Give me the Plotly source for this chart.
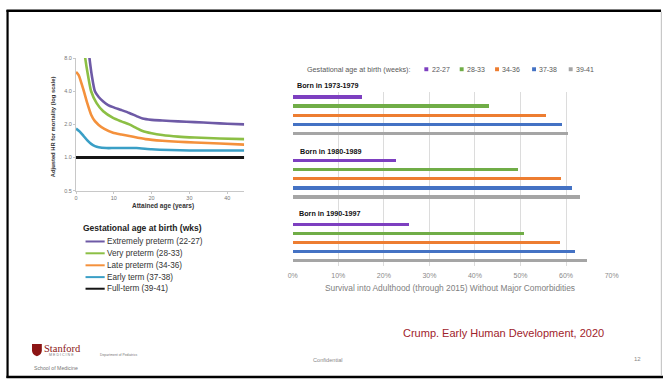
import math
import plotly.graph_objects as go

W, H = 670, 381
def px(x):
    return x / W
def py(y):
    return 1 - y / H

# ---------------- Left chart data (adjusted HR, log scale) ----------------
series_left = ["Extremely preterm (22-27)", "Very preterm (28-33)", "Late preterm (34-36)",
               "Early term (37-38)", "Full-term (39-41)"]
colors_left = ["#6e5aa6", "#8cbf45", "#f4913c", "#3a9fc6", "#151515"]

age_ext = [3.0, 3.56, 4.2, 5.0, 6.0, 7.2, 8.5, 9.8, 12, 14.1, 16, 17.6, 20, 22.8, 27, 31.4, 36, 40, 44.5]
hr_ext = [12, 8.0, 5.5, 4.0, 3.55, 3.23, 3.0, 2.87, 2.7, 2.54, 2.38, 2.26, 2.2, 2.17, 2.13, 2.1, 2.06, 2.03, 2.0]

age_very = [2.0, 2.44, 3.2, 4.0, 5.45, 7.2, 9.8, 12, 14.1, 16, 17.6, 20, 22.8, 27, 31.4, 38, 44.5]
hr_very = [11, 8.0, 5.5, 4.0, 3.12, 2.63, 2.29, 2.13, 2.0, 1.85, 1.74, 1.66, 1.6, 1.55, 1.52, 1.49, 1.47]

age_late = [0, 0.7, 1.3, 2, 3, 4, 5, 6, 7.5, 9.8, 12, 14.1, 18.4, 22.8, 27, 31.4, 38, 44.5]
hr_late = [6.0, 5.6, 4.9, 4.1, 3.1, 2.45, 2.14, 1.98, 1.82, 1.68, 1.62, 1.57, 1.47, 1.42, 1.39, 1.37, 1.34, 1.31]

age_early = [0, 1, 2, 3, 4, 5, 6, 8, 10, 13, 16, 20, 25, 30, 38, 44.5]
hr_early = [1.83, 1.72, 1.57, 1.43, 1.33, 1.27, 1.24, 1.22, 1.22, 1.22, 1.22, 1.19, 1.17, 1.16, 1.16, 1.16]

age_full = [0, 44.5]
hr_full = [1.0, 1.0]

left_ages = [age_ext, age_very, age_late, age_early, age_full]
left_hrs = [hr_ext, hr_very, hr_late, hr_early, hr_full]
left_widths = [2.6, 2.6, 2.6, 2.6, 3]

y_ticks_left = [0.5, 1.0, 2.0, 4.0, 8.0]
y_ticktext_left = ["0.5", "1.0", "2.0", "4.0", "8.0"]
x_ticks_left = [0, 10, 20, 30, 40]

# ---------------- Right chart data (survival without comorbidities) ----------------
cohorts = ["Born in 1973-1979", "Born in 1980-1989", "Born in 1990-1997"]
ga_groups = ["22-27", "28-33", "34-36", "37-38", "39-41"]
colors_right = ["#7d3fc0", "#70ad47", "#ed7d31", "#4472c4", "#a5a5a5"]
survival = {
    "22-27": [0.152, 0.227, 0.254],
    "28-33": [0.430, 0.494, 0.506],
    "34-36": [0.555, 0.588, 0.586],
    "37-38": [0.591, 0.613, 0.619],
    "39-41": [0.604, 0.629, 0.645],
}
x_ticks_right = [0, 0.1, 0.2, 0.3, 0.4, 0.5, 0.6, 0.7]

fig = go.Figure()

for name, ages, hrs, col, lw in zip(series_left, left_ages, left_hrs, colors_left, left_widths):
    fig.add_trace(go.Scatter(x=ages, y=hrs, mode="lines", name=name,
                             line=dict(color=col, width=lw, shape="spline", smoothing=0.6),
                             xaxis="x", yaxis="y", showlegend=False))

# slot layout: each cohort takes 7 slots (header + 5 bars + gap)
for i, (g, col) in enumerate(zip(ga_groups, colors_right)):
    ys = [c * 7 + 1 + i for c in range(len(cohorts))]
    fig.add_trace(go.Bar(x=survival[g], y=ys, orientation="h", width=0.35,
                         marker=dict(color=col, line=dict(width=0)), name=g,
                         xaxis="x2", yaxis="y2", showlegend=False))

FONT = "Liberation Sans, Arial, sans-serif"

fig.update_layout(
    width=W, height=H, margin=dict(l=0, r=0, t=0, b=0),
    paper_bgcolor="white", plot_bgcolor="rgba(0,0,0,0)",
    font=dict(family=FONT, color="#444"),
    showlegend=False,
    xaxis=dict(domain=[px(72.3), px(243.6)], range=[0, 44.5], tickvals=x_ticks_left,
               showgrid=False, zeroline=False, showline=True, linecolor="#c8c8c8", linewidth=1,
               ticks="outside", ticklen=2, tickcolor="#c8c8c8",
               tickfont=dict(size=5.5, color="#777"), anchor="y"),
    yaxis=dict(domain=[py(190.7), py(56)], type="log",
               range=[math.log10(0.5), math.log10(8)],
               tickvals=y_ticks_left, ticktext=y_ticktext_left,
               showgrid=False, zeroline=False, showline=True, linecolor="#c8c8c8", linewidth=1,
               ticks="outside", ticklen=2, tickcolor="#c8c8c8",
               tickfont=dict(size=5.5, color="#777"), anchor="x"),
    xaxis2=dict(domain=[px(293), px(617.7)], range=[0, 0.7], tickvals=x_ticks_right,
                tickformat=".0%", showgrid=True, gridcolor="#dcdcdc", gridwidth=1,
                zeroline=False, showline=False, ticks="", ticklabelstandoff=4,
                tickfont=dict(size=7, color="#8a8a8a"), anchor="y2"),
    yaxis2=dict(domain=[py(267), py(90)], range=[19.6, 0.46], showticklabels=False,
                showgrid=False, zeroline=False, showline=False, ticks="", anchor="x2"),
    bargap=0,
)

ann = []
shapes = []

def text(t, x, y, size, color, xanchor="left", angle=0, family=None):
    f = dict(size=size, color=color)
    if family:
        f["family"] = family
    ann.append(dict(text=t, x=px(x), y=py(y), xref="paper", yref="paper", showarrow=False,
                    xanchor=xanchor, yanchor="middle", textangle=angle, font=f))

# left axis titles
text("<b>Adjusted HR for mortality (log scale)</b>", 49, 126, 5.8, "#333", "center", -90)
text("<b>Attained age (years)</b>", 161, 206.7, 6.5, "#333", "center")

# left legend
text("<b>Gestational age at birth (wks)</b>", 77, 229, 8.5, "#222")
leg_y = [242.3, 254.3, 266.5, 278.5, 290.3]
for name, col, yy in zip(series_left, colors_left, leg_y):
    shapes.append(dict(type="line", xref="paper", yref="paper", x0=px(82), x1=px(101.5),
                       y0=py(yy), y1=py(yy), line=dict(color=col, width=2)))
    text(name, 101.5, yy, 8.2, "#333")

# right legend
text("Gestational age at birth (weeks):", 305, 67.3, 7.2, "#595959")
sq_x = [429, 465, 501, 538.7, 576]
for g, col, sx in zip(ga_groups, colors_right, sq_x):
    shapes.append(dict(type="rect", xref="paper", yref="paper", x0=px(sx - 2), x1=px(sx + 2),
                       y0=py(69.3), y1=py(65.3), fillcolor=col, line=dict(width=0)))
    text(g, sx + 3.5, 67.3, 7.0, "#595959")

# cohort headers
for name, hy, hx in zip(cohorts, [84.3, 150.7, 214], [295, 298, 297]):
    text("<b>" + name + "</b>", hx, hy, 7.2, "#111")

text("Survival into Adulthood (through 2015) Without Major Comorbidities", 453.5, 290, 8.4,
     "#808080", "center")

# footer
text("Crump. Early Human Development, 2020", 403, 335, 11, "#a0232b")
text("Confidential", 329, 362.3, 5.6, "#888", "center")
text("12", 644, 361.7, 6, "#888", "center")
text("Stanford", 38, 351, 10.5, "#8c1515", family="Liberation Serif, serif")
text("M E D I C I N E", 43, 357.5, 3.6, "#777")
text("Department of Pediatrics", 95, 357.5, 3.4, "#777")
text("School of Medicine", 28, 370.7, 5.2, "#777")

# shield
shield = "M {} {} L {} {} L {} {} Q {} {} {} {} Q {} {} {} {} Z".format(
    px(27.5), py(346.5), px(37.5), py(346.5), px(37.5), py(353),
    px(37.5), py(357), px(32.5), py(359), px(27.5), py(357), px(27.5), py(353))
shapes.append(dict(type="path", xref="paper", yref="paper", path=shield,
                   fillcolor="#8c1515", line=dict(width=0)))

# slide border
shapes.append(dict(type="line", xref="paper", yref="paper", x0=px(1.5), x1=px(668),
                   y0=py(7.8), y1=py(7.8), line=dict(color="#000", width=2.5)))
shapes.append(dict(type="line", xref="paper", yref="paper", x0=px(2.6), x1=px(2.6),
                   y0=py(7), y1=py(381), line=dict(color="#000", width=2.2)))
shapes.append(dict(type="line", xref="paper", yref="paper", x0=px(1.5), x1=px(670),
                   y0=py(380), y1=py(380), line=dict(color="#000", width=2.5)))
shapes.append(dict(type="line", xref="paper", yref="paper", x0=px(668.3), x1=px(668.3),
                   y0=py(9), y1=py(379), line=dict(color="#bdbdbd", width=1)))

fig.update_layout(annotations=ann, shapes=shapes)
fig.write_html("out.html")
